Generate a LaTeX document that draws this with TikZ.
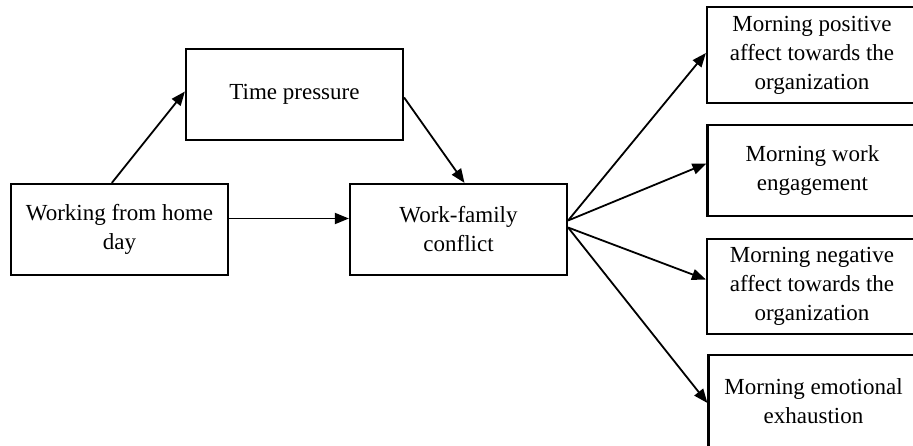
\documentclass[tikz,border=0pt]{standalone}
\usepackage{fontspec}
\setmainfont{Liberation Serif}
\usetikzlibrary{arrows.meta,calc}
\begin{document}
\begin{tikzpicture}[x=1pt,y=-1pt,
  box/.style={draw,line width=2.2pt,minimum width=217pt,minimum height=91pt,inner sep=0pt,align=center,
    font=\fontsize{23pt}{29pt}\selectfont},
  rbox/.style={box,minimum width=210pt},
  conn/.style={line width=1.8pt,-{Triangle[length=14pt,width=11pt]}}]
\useasboundingbox (0,0) rectangle (913,445);
\clip (0,0) rectangle (913,445);
\node[box] (wfh) at (119.5,229.5) {Working from home\\day};
\node[box] (tp) at (294.5,94.5) {Time pressure};
\node[box] (wfc) at (458.5,229.5) {Work-family\\conflict};
\node[rbox,minimum height=96pt] (r1) at (812,55) {Morning positive\\affect towards the\\organization};
\node[rbox] (r2) at (812.5,170.5) {Morning work\\engagement};
\node[rbox,minimum height=95pt] (r3) at (812,286.5) {Morning negative\\affect towards the\\organization};
\node[rbox,minimum height=92pt] (r4) at (813.5,401) {Morning emotional\\exhaustion};
\draw[conn] ($(wfh.north west)!0.465!(wfh.north east)$) -- ([yshift=3pt]tp.west);
\draw[conn] ([yshift=-3pt]tp.east) -- ([xshift=6pt]wfc.north);
\draw[conn] ([yshift=11pt]wfh.east) -- ([yshift=11pt]wfc.west);
\coordinate (fa) at ([yshift=9pt]wfc.east);
\coordinate (fb) at ([yshift=2pt]wfc.east);
\draw[conn] (fa) -- ([yshift=2pt]r1.west);
\draw[conn] (fa) -- ([yshift=7pt]r2.west);
\draw[conn] (fb) -- ([yshift=7pt]r3.west);
\draw[conn] (fb) -- ([yshift=-2pt]r4.west);
\end{tikzpicture}
\end{document}
